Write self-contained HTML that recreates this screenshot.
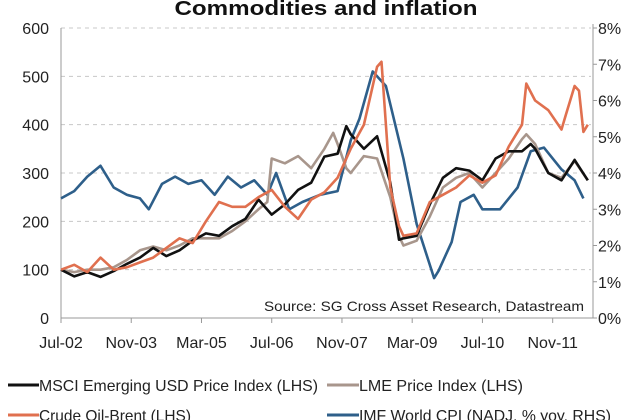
<!DOCTYPE html>
<html><head><meta charset="utf-8"><style>
html,body{margin:0;padding:0;background:#fff;}
svg{display:block;font-family:"Liberation Sans",Arial,sans-serif;}
</style></head><body>
<svg id="chart" width="640" height="420" viewBox="0 0 640 420" xmlns="http://www.w3.org/2000/svg">
<text x="326" y="15" text-anchor="middle" font-size="20" font-weight="bold" fill="#111" textLength="303" lengthAdjust="spacingAndGlyphs">Commodities and inflation</text>
<g id="grid"></g>
<g id="axes"></g>
<g id="series"></g>
<text x="584" y="311" text-anchor="end" font-size="14" fill="#222" textLength="320" lengthAdjust="spacingAndGlyphs">Source: SG Cross Asset Research, Datastream</text>
<g>
<g><line x1="8" y1="385" x2="39" y2="385" stroke="#111" stroke-width="3"/><text x="39" y="391" font-size="16" fill="#222" textLength="279" lengthAdjust="spacingAndGlyphs">MSCI Emerging USD Price Index (LHS)</text></g>
<g><line x1="327" y1="385" x2="359" y2="385" stroke="#a8968c" stroke-width="3"/><text x="359" y="391" font-size="16" fill="#222" textLength="164" lengthAdjust="spacingAndGlyphs">LME Price Index (LHS)</text></g>
<g><line x1="8" y1="415" x2="39" y2="415" stroke="#e0704f" stroke-width="3"/><text x="39" y="421" font-size="16" fill="#222" textLength="152" lengthAdjust="spacingAndGlyphs">Crude Oil-Brent (LHS)</text></g>
<g><line x1="327" y1="415" x2="359" y2="415" stroke="#2e5f8a" stroke-width="3"/><text x="359" y="421" font-size="16" fill="#222" textLength="252" lengthAdjust="spacingAndGlyphs">IMF World CPI (NADJ, % yoy, RHS)</text></g>
</g>
</svg>
<script>
const leftTicks = [0,100,200,300,400,500,600];
const rightTicks = [0,1,2,3,4,5,6,7,8];
const xTickLabels = ["Jul-02","Nov-03","Mar-05","Jul-06","Nov-07","Mar-09","Jul-10","Nov-11"];
const xTickMonths = [0,16,32,48,64,80,96,112];

const msciMonths = [0,3,6,9,12,15,18,21,24,27,30,33,36,39,42,45,48,51,54,57,60,63,65,66,69,72,75,77,78,81,84,87,90,93,96,99,102,105,107,108,111,114,117,120];
const msciValues = [100,86,95,85,97,112,125,145,128,140,160,175,170,190,205,245,214,235,265,280,334,340,397,380,350,376,280,162,165,170,235,290,310,305,285,330,345,345,360,350,300,285,327,285];

const lmeMonths = [0,3,6,9,12,15,18,21,24,27,30,33,36,39,42,45,47,48,51,54,57,60,62,63,65,66,69,72,75,77,78,81,84,87,90,93,96,99,102,105,106,108,111,114,117,120];
const lmeValues = [100,95,100,100,105,120,140,148,140,150,165,165,165,180,200,225,240,330,320,335,310,350,383,360,310,300,335,330,250,170,150,160,210,270,290,300,270,300,330,370,380,360,300,290,325,285];

const brentMonths = [0,3,6,9,12,15,18,21,24,27,30,33,36,39,42,45,48,51,54,57,60,63,66,69,72,73,74,75,77,78,81,84,87,90,93,96,99,102,105,106,108,111,114,115,117,118,119,120];
const brentValues = [100,110,95,125,100,105,115,125,145,165,155,200,240,230,230,250,265,230,205,245,260,290,350,400,520,530,400,270,190,170,175,240,255,270,295,280,295,355,400,485,450,430,390,420,480,470,385,400];

const cpiMonths = [0,3,6,9,12,15,18,20,23,26,29,32,35,38,41,44,47,49,52,55,59,63,66,68,71,74,78,81,85,86,89,91,94,96,100,104,107,110,114,117,119];
const cpiValues = [3.3,3.5,3.9,4.2,3.6,3.4,3.3,3.0,3.7,3.9,3.7,3.8,3.4,3.9,3.6,3.8,3.4,4.0,3.0,3.2,3.4,3.5,4.9,5.5,6.8,6.4,4.4,2.6,1.1,1.3,2.1,3.2,3.4,3.0,3.0,3.6,4.6,4.7,4.1,3.8,3.3];

const X0 = 61, XPM = 4.39, YB = 318, YT = 28;
const xScale = m => X0 + m * XPM;
const yLeft = v => YB - (v / 600) * (YB - YT);
const yRight = v => YB - (v / 8) * (YB - YT);
const NS = "http://www.w3.org/2000/svg";
const mk = (tag, attrs, parent) => { const e = document.createElementNS(NS, tag); for (const k in attrs) e.setAttribute(k, attrs[k]); parent.appendChild(e); return e; };

const grid = document.getElementById("grid");
const axes = document.getElementById("axes");
const series = document.getElementById("series");

leftTicks.forEach(t => {
  const y = yLeft(t);
  if (t > 0) {
    const gl = mk("line", {x1: X0, x2: 591, y1: y, y2: y, stroke: "#c8c8c8", "stroke-dasharray": "4,4", "stroke-width": 1}, grid);
    
    
  }
  const lbl = mk("text", {x: 49, y: y + 6, "text-anchor": "end", "font-size": 16, fill: "#222"}, axes);
  lbl.textContent = t;
  
  
});
rightTicks.forEach(t => {
  const y = yRight(t);
  mk("line", {x1: 593, x2: 597, y1: y, y2: y, stroke: "#999"}, axes);
  const lbl = mk("text", {x: 598, y: y + 6, "font-size": 16, fill: "#222"}, axes);
  lbl.textContent = t + "%";
  
  
});
mk("line", {x1: X0, x2: X0, y1: YT, y2: YB, stroke: "#999"}, axes);
mk("line", {x1: 593, x2: 593, y1: YT - 4, y2: YB, stroke: "#999"}, axes);
mk("line", {x1: X0, x2: 593, y1: YB, y2: YB, stroke: "#999"}, axes);
xTickLabels.forEach((l, i) => {
  const x = xScale(xTickMonths[i]);
  mk("line", {x1: x, x2: x, y1: YB, y2: YB + 5, stroke: "#999"}, axes);
  const lbl = mk("text", {x: x, y: 348, "text-anchor": "middle", "font-size": 16, fill: "#222"}, axes);
  lbl.textContent = l;
  
  
});

function drawLine(months, vals, yf, color, name) {
  const d = months.map((m, i) => (i ? "L" : "M") + xScale(m).toFixed(1) + "," + yf(vals[i]).toFixed(1)).join(" ");
  const p = mk("path", {d: d, fill: "none", stroke: color, "stroke-width": 2.6, "stroke-linejoin": "round"}, series);
  
  
}
drawLine(cpiMonths, cpiValues, yRight, "#2e5f8a", "cpi-line");
drawLine(lmeMonths, lmeValues, yLeft, "#a8968c", "lme-line");
drawLine(msciMonths, msciValues, yLeft, "#111", "msci-line");
drawLine(brentMonths, brentValues, yLeft, "#e0704f", "brent-line");
</script>
</body></html>
